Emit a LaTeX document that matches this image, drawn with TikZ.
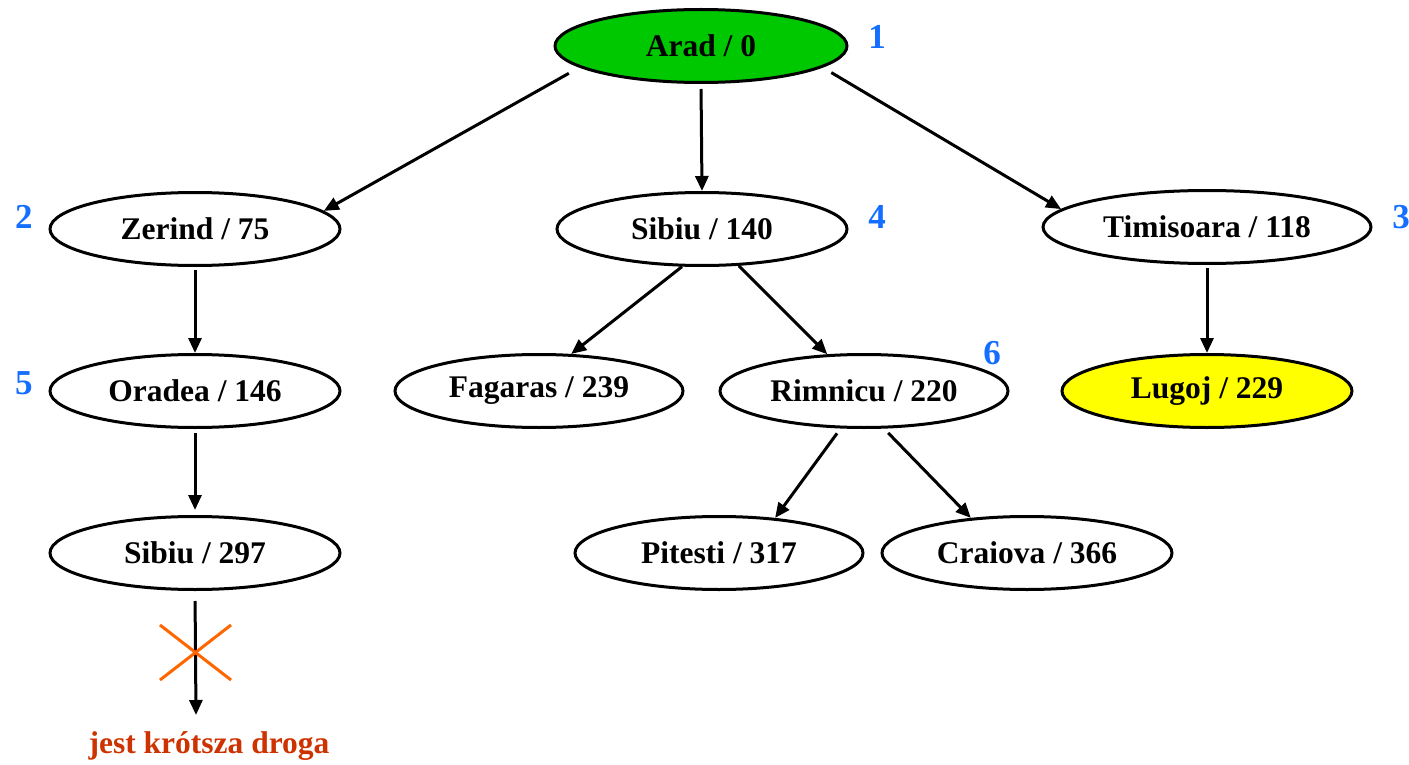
\documentclass[tikz,border=0pt]{standalone}
\usepackage{fontspec}
\setmainfont{Liberation Serif}
\usetikzlibrary{arrows.meta,shapes.geometric}
\definecolor{nodegreen}{RGB}{0,200,0}
\definecolor{nodeyellow}{RGB}{255,255,0}
\definecolor{stepblue}{RGB}{20,110,255}
\definecolor{crossorange}{RGB}{255,102,0}
\definecolor{notered}{RGB}{204,51,0}
\tikzset{
  city/.style={ellipse, draw=black, line width=3pt, inner sep=0pt,
    minimum width=290pt, minimum height=73pt,
    font=\fontsize{31.5}{34}\selectfont\bfseries},
  order/.style={text=stepblue, inner sep=0pt,
    font=\fontsize{35}{38}\selectfont\bfseries},
  edge/.style={line width=3pt, -{Triangle[length=15pt,width=13pt]}},
  strike/.style={crossorange, line width=3pt},
}
\begin{document}
\begin{tikzpicture}[x=1pt,y=-1pt]
\useasboundingbox (0,0) rectangle (1409,765);

% search tree nodes: city / path cost
\node[city, fill=nodegreen, minimum width=292pt] (arad) at (701,46) {Arad / 0};
\node[city] (zerind) at (195,229) {Zerind / 75};
\node[city] (sibA) at (702,229) {Sibiu / 140};
\node[city, minimum width=328pt] (timi) at (1207,227) {Timisoara / 118};
\node[city] (oradea) at (195,391) {Oradea / 146};
\node[city, minimum width=288pt] (fagaras) at (539,391) {Fagaras / 239};
\node[city, minimum width=288pt] (rimnicu) at (864,391) {Rimnicu / 220};
\node[city, fill=nodeyellow] (lugoj) at (1207,391) {Lugoj / 229};
\node[city] (sibB) at (195,553) {Sibiu / 297};
\node[city, minimum width=288pt] (pitesti) at (719,553) {Pitesti / 317};
\node[city] (craiova) at (1027,553) {Craiova / 366};

% expansion order
\node[order] (n1) at (877,37) {1};
\node[order] (n2) at (24,217) {2};
\node[order] (n3) at (1401,217) {3};
\node[order] (n4) at (877,217) {4};
\node[order] (n5) at (24,383) {5};
\node[order] (n6) at (992,353) {6};

% note under the pruned branch
\node[text=notered, inner sep=0pt, font=\fontsize{31.5}{34}\selectfont\bfseries]
  (note) at (209,746) {jest krótsza droga};
\coordinate (tipend) at (196,715);

% edges
\draw[edge, shorten <=12pt] (arad.190) -- (zerind.8);
\draw[edge, shorten <=5pt] (arad.-90) -- (sibA.90);
\draw[edge, shorten <=10pt] (arad.-10) -- (timi.173);
\draw[edge, shorten <=3pt] (zerind.-90) -- (oradea.90);
\draw[edge] (sibA.242) -- (fagaras.49);
\draw[edge] (sibA.-45) -- (rimnicu.135);
\draw[edge, shorten <=3pt] (timi.-90) -- (lugoj.90);
\draw[edge, shorten <=4pt, shorten >=5pt] (oradea.-90) -- (sibB.90);
\draw[edge, shorten <=6pt] (rimnicu.238) -- (pitesti.32);
\draw[edge, shorten <=6pt] (rimnicu.-62) -- (craiova.148);
\draw[edge, shorten <=10pt] (sibB.-90) -- (tipend);

% crossed-out branch
\draw[strike] (160,625) -- (231,680);
\draw[strike] (231,625) -- (160,680);
\end{tikzpicture}
\end{document}
